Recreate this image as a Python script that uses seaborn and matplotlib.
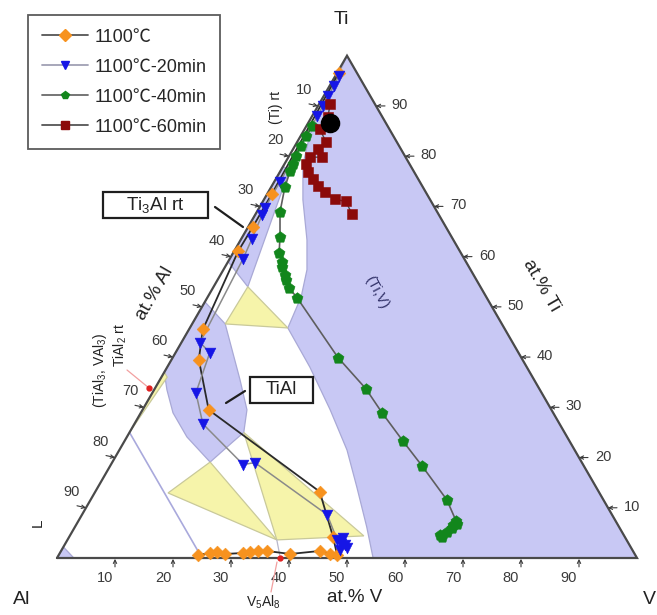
import numpy as np
import pandas as pd
import matplotlib
matplotlib.use("Agg")
import matplotlib.pyplot as plt
import seaborn as sns
from matplotlib.patches import Rectangle
from matplotlib.lines import Line2D

# ---------------------------------------------------------------
# Ti-Al-V isothermal section: diffusion paths measured at 1100 C
# every composition is (at.% V, at.% Ti); Al is the balance
# ---------------------------------------------------------------
series_labels = ["1100℃", "1100℃-20min", "1100℃-40min", "1100℃-60min"]

path0_v = [0.3, 0.8, 0.8, 0.7, 2.4, 4.7, 11.4, 38.7, 45.5, 48.0, 46.7, 44.6, 39.8,
           35.5, 34.0, 32.7, 31.6, 28.6, 27.0, 25.9, 24.0]
path0_ti = [96.5, 72.5, 65.9, 61.1, 45.5, 39.5, 29.5, 13.2, 4.2, 0.6, 0.8, 1.4, 0.8,
            1.4, 1.4, 1.2, 1.0, 0.8, 1.2, 1.0, 0.6]

path20_v = [0.6, 0.7, 0.8, 0.8, 0.9, 1.0, 1.0, 1.2, 1.85, 2.3, 3.2, 5.9, 7.5, 11.8,
            22.8, 24.6, 42.3, 46.5, 47.3, 48.4, 49.0, 48.0, 47.6]
path20_ti = [96.0, 94.0, 92.0, 90.0, 88.0, 74.9, 69.7, 68.3, 63.5, 59.5, 42.9, 40.9,
             32.9, 26.7, 18.6, 19.0, 8.6, 3.6, 4.0, 2.6, 2.0, 1.6, 2.8]

path40_v = [1.0, 1.0, 1.0, 1.2, 1.4, 1.7, 2.35, 4.0, 6.5, 7.9, 9.3, 9.8, 11.1, 11.8,
            13.1, 15.5, 28.5, 36.4, 41.6, 48.1, 53.7, 61.4, 65.1, 65.1, 64.6, 64.3,
            63.8, 64.9, 65.5]
path40_ti = [86.0, 84.0, 82.0, 80.0, 78.5, 77.0, 73.9, 68.9, 63.9, 60.8, 59.0, 58.0,
             56.4, 55.4, 53.8, 51.8, 39.9, 33.7, 28.9, 23.2, 18.4, 11.6, 7.4, 6.0,
             5.2, 4.2, 4.6, 6.6, 6.8]

path60_v = [1.9, 2.8, 2.6, 5.0, 4.3, 5.8, 3.7, 3.7, 4.9, 6.4, 8.0, 9.75, 12.2, 14.3, 16.6]
path60_ti = [90.4, 87.8, 85.4, 82.8, 81.4, 79.8, 79.8, 78.4, 76.8, 75.4, 74.0, 72.9,
             71.4, 71.0, 68.5]

# initial alloy composition
start_v = [3.75]
start_ti = [86.7]

# single-phase fields
beta_v = [0, 0.5, 1.0, 1.45, 3.25, 6.75, 11.45, 14.4, 16.1, 16.9, 24.6, 32.35,
          39.25, 44.65, 50.3, 54.5, 100]
beta_ti = [100, 95.5, 90, 84.3, 78.3, 71.3, 63.3, 57.4, 52.0, 45.8, 38.0, 29.5,
           21.5, 14.1, 6.2, 0, 0]
ti3al_v = [0, 1.5, 5.9, 0]
ti3al_ti = [78, 77, 54, 59]
tial_v = [0, 5.7, 13.8, 18.0, 19.7, 18.75, 16.85, 10.35, 5.55, 2.2, 0]
tial_ti = [51, 46.6, 35.5, 29.5, 25.0, 23.1, 19.1, 24.1, 28.9, 33.5, 37]
liq_v = [0, 2.9, 0]
liq_ti = [0, 0, 2.2]

# three-phase triangles
tri1_v = [5.9, 5.7, 16.9]
tri1_ti = [54, 46.6, 45.8]
tri2_v = [12.67, 16.85, 36.1]
tri2_ti = [12.95, 19.1, 3.6]
tri3_v = [19.7, 36.1, 50.7]
tri3_ti = [25.0, 3.6, 4.4]
tri4_v = [0, 0, 1.0]
tri4_ti = [25, 37, 36]

# (TiAl3, VAl3) line compound and the V5Al8 tie line
al3_v = [0, 25]
al3_ti = [25, 0]
v5al8_v = [36.1, 38.5]
v5al8_ti = [3.6, 0]
v5al8_point = 38.5

tick_values = [10, 20, 30, 40, 50, 60, 70, 80, 90]


def tern(v, ti):
    v = np.asarray(v, float)
    ti = np.asarray(ti, float)
    return v + ti / 2.0, ti * np.sqrt(3) / 2.0


W, H = 657, 615
S = 5.8              # pixels per at.%
X0, Y0 = 57, 558     # Al corner in pixels


def P(x, y):
    """figure position in pixels -> axes fraction"""
    return x / W, 1 - y / H


sns.set_theme(style="white")
plt.rcParams['font.family'] = ['Liberation Sans', 'Noto Sans CJK SC', 'DejaVu Sans']
plt.rcParams['mathtext.fontset'] = 'custom'
plt.rcParams['mathtext.rm'] = 'Liberation Sans'
plt.rcParams['mathtext.it'] = 'Liberation Sans:italic'

fig = plt.figure(figsize=(W / 100, H / 100), dpi=100)
ax = fig.add_axes([0, 0, 1, 1])

LAV = '#c8c8f4'
LAV_EDGE = '#a9a9d6'
YEL = '#f6f4aa'
YEL_EDGE = '#c9c99a'

for v, t in [(beta_v, beta_ti), (ti3al_v, ti3al_ti), (tial_v, tial_ti), (liq_v, liq_ti)]:
    x, y = tern(v, t)
    ax.fill(x, y, facecolor=LAV, edgecolor=LAV_EDGE, lw=0.9, zorder=1)
for v, t in [(tri1_v, tri1_ti), (tri2_v, tri2_ti), (tri3_v, tri3_ti), (tri4_v, tri4_ti)]:
    x, y = tern(v, t)
    ax.fill(x, y, facecolor=YEL, edgecolor=YEL_EDGE, lw=0.9, zorder=1.5)

x, y = tern(al3_v, al3_ti)
ax.plot(x, y, color='#a9a9dc', lw=1.2, zorder=2)
x, y = tern(v5al8_v, v5al8_ti)
ax.plot(x, y, color='#b8b8cc', lw=0.9, zorder=2)

# triangle frame
x, y = tern([0, 100, 0, 0], [0, 0, 100, 0])
ax.plot(x, y, color='#4a4a4a', lw=1.6, zorder=3, solid_joinstyle='miter')

# diffusion paths
styles = [
    (path0_v, path0_ti, '#2a2a2a', 1.3, 'D', '#f7921e', 42),
    (path20_v, path20_ti, '#8a8a8a', 1.1, 'v', '#1616e6', 60),
    (path40_v, path40_ti, '#5e5e5e', 1.2, 'p', '#12861c', 70),
    (path60_v, path60_ti, '#4a4a4a', 1.0, 's', '#8b0a0a', 62),
]
for v, t, lc, lw, mk, mc, ms in styles:
    x, y = tern(v, t)
    df = pd.DataFrame({'x': x, 'y': y})
    sns.lineplot(data=df, x='x', y='y', sort=False, estimator=None, color=lc,
                 lw=lw, ax=ax, zorder=4)
    sns.scatterplot(data=df, x='x', y='y', marker=mk, color=mc, s=ms,
                    edgecolor=mc, linewidth=0.4, ax=ax, zorder=5, legend=False)

x, y = tern(start_v, start_ti)
sns.scatterplot(x=x, y=y, marker='o', color='black', s=170, edgecolor='black',
                ax=ax, zorder=6, legend=False)

ax.set_xlim(-X0 / S, (W - X0) / S)
ax.set_ylim(-(H - Y0) / S, Y0 / S)
ax.axis('off')

# axis ticks and tick labels
TC = '#3a3a3a'
arrow = dict(arrowstyle='->', color=TC, lw=0.8, shrinkA=0, shrinkB=0, mutation_scale=6)
for val in tick_values:
    # bottom: at.% V
    p = tern(val, 0)
    ax.annotate('', xy=(p[0], p[1] - 0.15), xytext=(0, -8), textcoords='offset pixels',
                arrowprops=arrow, zorder=3)
    ax.annotate(str(val), xy=p, xytext=(-10, -20), textcoords='offset pixels',
                ha='center', va='center', fontsize=10.5, color=TC)
    # left: at.% Al
    p = tern(0, 100 - val)
    ax.annotate('', xy=p, xytext=(-9, 2), textcoords='offset pixels',
                arrowprops=arrow, zorder=3)
    ax.annotate(str(val), xy=p, xytext=(-14, 16), textcoords='offset pixels',
                ha='center', va='center', fontsize=10.5, color=TC)
    # right: at.% Ti
    p = tern(100 - val, val)
    ax.annotate('', xy=p, xytext=(9, 0), textcoords='offset pixels',
                arrowprops=arrow, zorder=3)
    ax.annotate(str(val), xy=p, xytext=(24, 1), textcoords='offset pixels',
                ha='center', va='center', fontsize=10.5, color=TC)

# corner and axis titles
ax.text(*P(341, 20), 'Ti', transform=ax.transAxes, ha='center', va='center', fontsize=14, color='#222')
ax.text(*P(22, 600), 'Al', transform=ax.transAxes, ha='center', va='center', fontsize=14, color='#222')
ax.text(*P(649, 599), 'V', transform=ax.transAxes, ha='center', va='center', fontsize=14, color='#222')
ax.text(*P(355, 598), 'at.% V', transform=ax.transAxes, ha='center', va='center', fontsize=13.5, color='#222')
ax.text(*P(155, 293), 'at.% Al', transform=ax.transAxes, ha='center', va='center', fontsize=13.5,
        color='#222', rotation=60)
ax.text(*P(541, 285), 'at.% Ti', transform=ax.transAxes, ha='center', va='center', fontsize=13.5,
        color='#222', rotation=-60)

# phase labels
ax.text(*P(276, 108), '(Ti) rt', transform=ax.transAxes, ha='center', va='center', fontsize=10,
        rotation=90, color='#222')
ax.text(*P(377, 292), '(Ti,V)', transform=ax.transAxes, ha='center', va='center', fontsize=10.5,
        rotation=-62, color='#33336a')
ax.text(*P(100, 370), r'(TiAl$_\mathregular{3}$, VAl$_\mathregular{3}$)', transform=ax.transAxes,
        ha='center', va='center', fontsize=10, rotation=90, color='#222')
ax.text(*P(120, 345), r'TiAl$_\mathregular{2}$ rt', transform=ax.transAxes,
        ha='center', va='center', fontsize=10, rotation=90, color='#222')
ax.text(*P(38, 523), 'L', transform=ax.transAxes, ha='center', va='center', fontsize=11,
        rotation=90, color='#222')
ax.text(*P(263, 602), r'V$_\mathregular{5}$Al$_\mathregular{8}$', transform=ax.transAxes,
        ha='center', va='center', fontsize=10, color='#222')

# TiAl2 / V5Al8 markers with pointer lines
ax.plot(*zip(P(127, 370), P(149, 388)), transform=ax.transAxes, color='#f2a0a0', lw=0.9, zorder=3)
ax.plot(*P(149, 388), 'o', ms=3.5, color='#e02020', transform=ax.transAxes, zorder=6)
px, py = tern(v5al8_point, 0)
ax.plot(px, py, 'o', ms=3.5, color='#e02020', zorder=6)
ax.plot(*zip(P(271, 592), P(277, 562)), transform=ax.transAxes, color='#f2a0a0', lw=0.9, zorder=3)

# boxed labels with leader lines
for (x0, y0, x1, y1), txt in [((103, 192, 208, 218), r'Ti$_\mathregular{3}$Al rt'),
                              ((250, 377, 313, 403), 'TiAl')]:
    bx, by = P(x0, y1)
    ax.add_patch(Rectangle((bx, by), (x1 - x0) / W, (y1 - y0) / H, transform=ax.transAxes,
                           facecolor='white', edgecolor='#1e1e1e', lw=1.6, zorder=7))
    ax.text(*P((x0 + x1) / 2, (y0 + y1) / 2), txt, transform=ax.transAxes, ha='center',
            va='center', fontsize=13.5, color='#222', zorder=8)
ax.plot(*zip(P(215, 207), P(243, 227)), transform=ax.transAxes, color='#1e1e1e', lw=1.6, zorder=7)
ax.plot(*zip(P(245, 391), P(226, 403)), transform=ax.transAxes, color='#1e1e1e', lw=1.6, zorder=7)

# legend
leg_lines = ['#555555', '#a0a0b4', '#6a6a6a', '#555555']
handles = []
for (v, t, lc, lw, mk, mc, ms), llc in zip(styles, leg_lines):
    handles.append(Line2D([], [], color=llc, lw=1.3, marker=mk, mfc=mc, mec=mc, ms=6))
leg = ax.legend(handles, series_labels, loc='upper left', bbox_to_anchor=P(28, 15),
                bbox_transform=ax.transAxes, fontsize=13, frameon=True, fancybox=False,
                handlelength=2.6, handletextpad=0.35, labelspacing=0.72, borderpad=0.75,
                borderaxespad=0)
leg.get_frame().set_edgecolor('#333333')
leg.get_frame().set_linewidth(1.3)
leg.set_zorder(10)

fig.savefig('out.png', dpi=100)
